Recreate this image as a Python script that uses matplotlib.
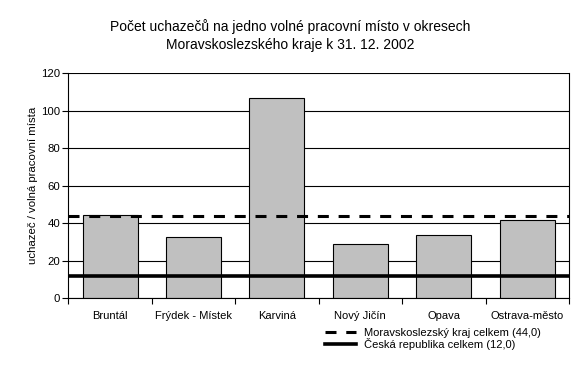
import matplotlib
matplotlib.use("Agg")
import matplotlib.pyplot as plt

# data
districts = ["Bruntál", "Frýdek - Místek", "Karviná", "Nový Jičín", "Opava", "Ostrava-město"]
applicants = [44.1, 32.5, 106.8, 28.6, 33.4, 41.4]
region_avg = 44.0
country_avg = 12.0
y_ticks = [0, 20, 40, 60, 80, 100, 120]

plt.rcParams["font.family"] = ["Liberation Sans", "DejaVu Sans"]

fig = plt.figure(figsize=(5.81, 3.74), dpi=100)
ax = fig.add_axes([0.1176, 0.2032, 0.8617, 0.6016])

x = range(len(districts))
ax.bar(x, applicants, width=0.66, color="#c0c0c0", edgecolor="black", linewidth=0.8, zorder=2)

dash_line = ax.axhline(region_avg, color="black", linewidth=2.2, linestyle=(0, (3.6, 3.2)), zorder=3,
                       label="Moravskoslezský kraj celkem (44,0)")
solid_line = ax.axhline(country_avg, color="black", linewidth=2.6, zorder=3,
                        label="Česká republika celkem (12,0)")

ax.set_xlim(-0.5, len(districts) - 0.5)
ax.set_ylim(0, 120)
ax.set_yticks(y_ticks)
ax.set_yticklabels([str(t) for t in y_ticks], fontsize=8.2)
ax.yaxis.grid(True, color="black", linewidth=0.8, zorder=0)
ax.set_axisbelow(True)

# category labels centered, ticks between categories
ax.set_xticks(list(x))
ax.set_xticklabels(districts, fontsize=8)
ax.tick_params(axis="x", length=0, pad=9)
ax.set_xticks([i - 0.5 for i in range(len(districts) + 1)], minor=True)
ax.tick_params(axis="x", which="minor", length=4, width=0.8, direction="out")
ax.tick_params(axis="y", length=4, width=0.8, direction="out", pad=2)

for side in ["left", "right", "bottom", "top"]:
    ax.spines[side].set_linewidth(0.8)
ax.spines["top"].set_visible(False)

ax.set_ylabel("uchazeč / volná pracovní místa", fontsize=8.2, labelpad=2)

fig.text(0.5, 0.905, "Počet uchazečů na jedno volné pracovní místo v okresech\nMoravskoslezského kraje k 31. 12. 2002",
         ha="center", va="center", fontsize=10, linespacing=1.4)

fig.legend(handles=[dash_line, solid_line], loc="upper left", bbox_to_anchor=(0.559, 0.124),
           frameon=False, fontsize=8, handlelength=2.8, handletextpad=0.75,
           labelspacing=0.02, borderpad=0, borderaxespad=0)

fig.savefig("out.png", dpi=100)
